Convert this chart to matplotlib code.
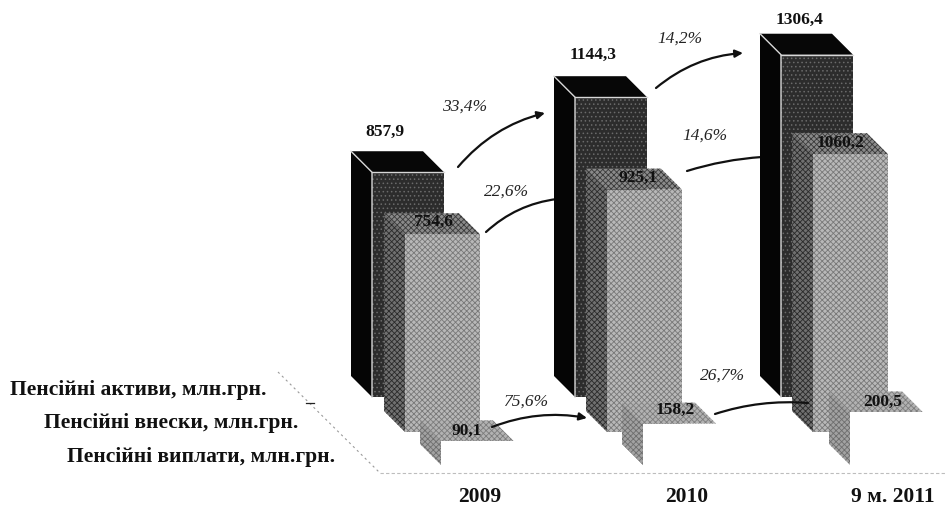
import matplotlib
matplotlib.use("Agg")
import matplotlib.pyplot as plt
from matplotlib.patches import Polygon

periods = ["2009", "2010", "9 м. 2011"]
series_names = ["Пенсійні активи, млн.грн.", "Пенсійні внески, млн.грн.", "Пенсійні виплати, млн.грн."]
assets = [857.9, 1144.3, 1306.4]
contributions = [754.6, 925.1, 1060.2]
payments = [90.1, 158.2, 200.5]
asset_growth = ["33,4%", "14,2%"]
contribution_growth = ["22,6%", "14,6%"]
payment_growth = ["75,6%", "26,7%"]

SCALE = 0.262   # pixels per unit of value
DEPTH = 21      # pixels of 3D depth
W, H = 946, 508
BASE3 = 465


def Y(px):
    return (BASE3 - px) / SCALE


fig = plt.figure(figsize=(W / 100, H / 100), dpi=100, facecolor="white")
ax = fig.add_axes([0, 0, 1, 1])
ax.set_xlim(0, W)
ax.set_ylim(Y(H), Y(0))
ax.axis("off")

SERIF = "Liberation Serif"
dz = DEPTH / SCALE


def draw_series(values, lefts, width, base_px, front, side, top, hatch_front, hatch_side, hatch_top,
                hc_front, hc_side, hc_top, z):
    base = Y(base_px)
    ax.bar(lefts, values, width=width, bottom=base, align="edge", color=front, edgecolor=hc_front,
           linewidth=0, hatch=hatch_front, zorder=z + 0.2)
    for v, l in zip(values, lefts):
        t = base + v
        ax.add_patch(Polygon([(l - DEPTH, base + dz), (l, base), (l, t), (l - DEPTH, t + dz)],
                             facecolor=side, edgecolor=hc_side, linewidth=0, hatch=hatch_side, zorder=z))
        ax.add_patch(Polygon([(l - DEPTH, t + dz), (l, t), (l + width, t), (l + width - DEPTH, t + dz)],
                             facecolor=top, edgecolor=hc_top, linewidth=0, hatch=hatch_top, zorder=z + 0.1))


plt.rcParams["hatch.linewidth"] = 0.6

# floor outline
ax.plot([278, 380], [Y(372), Y(473)], color="#9a9a9a", lw=0.8, ls=(0, (2, 3)), zorder=1)
ax.plot([380, 945], [Y(473), Y(473)], color="#bdbdbd", lw=0.8, ls=(0, (3, 2)), zorder=1)
ax.plot([306, 314], [Y(403), Y(403)], color="#222222", lw=0.9, zorder=1)


# arrows
def arrow(x0, y0, x1, y1, rad, head=True, z=2):
    ax.annotate("", xy=(x1, Y(y1)), xytext=(x0, Y(y0)), zorder=z,
                arrowprops=dict(arrowstyle="-|>,head_width=0.22,head_length=0.45" if head else "-",
                                connectionstyle=f"arc3,rad={rad}", color="#111111", lw=1.6,
                                shrinkA=0, shrinkB=0))


arrow(458, 167, 545, 113, -0.16)
arrow(656, 88, 743, 53, -0.16)
arrow(486, 232, 557, 199, -0.16, head=False)
arrow(687, 171, 762, 157, -0.06, head=False)

a_left = [372, 575, 781]
draw_series(assets, a_left, 72, 397, "#2c2c2c", "#050505", "#070707",
            "....", None, None, "#6a6a6a", "#050505", "#070707", 3)
for v, l in zip(assets, a_left):
    t = Y(397) + v
    ax.plot([l - DEPTH, l, l], [t + dz, t, Y(397)], color="#d8d8d8", lw=1.0, zorder=3.3)
    ax.plot([l, l + 72], [t, t], color="#d8d8d8", lw=1.0, zorder=3.3)

c_left = [405, 607, 813]
draw_series(contributions, c_left, 75, 432, "#b8b8b8", "#707070", "#8a8a8a",
            "xxxxxx", "xxxxxx", "xxxxxx", "#787878", "#2a2a2a", "#3a3a3a", 4)

p_left = [441, 643, 850]
draw_series(payments, p_left, 73, BASE3, "white", "#a2a2a2", "#b2b2b2",
            None, "xxxxxx", "xxxxxx", "white", "#6e6e6e", "#7d7d7d", 5)

arrow(492, 427, 587, 418, -0.14, z=7)
arrow(715, 414, 808, 403, -0.1, head=False, z=7)

# value labels
val_kw = dict(family=SERIF, weight="bold", ha="center", va="center", color="#111111", zorder=8, fontsize=12.5)
for v, x, y in zip(assets, [385, 593, 800], [132, 55, 20]):
    ax.text(x, Y(y), f"{v:.1f}".replace(".", ","), **val_kw)
for v, x, y in zip(contributions, [433, 638, 840], [222, 178, 143]):
    ax.text(x, Y(y), f"{v:.1f}".replace(".", ","), **val_kw)
for v, x, y in zip(payments, [467, 675, 883], [431, 410, 402]):
    ax.text(x, Y(y), f"{v:.1f}".replace(".", ","), **val_kw)

# growth labels
pct_kw = dict(family=SERIF, style="italic", ha="center", va="center", color="#222222", fontsize=12.5, zorder=8)
for s, x, y in zip(asset_growth, [465, 680], [107, 39]):
    ax.text(x, Y(y), s, **pct_kw)
for s, x, y in zip(contribution_growth, [507, 705], [192, 136]):
    ax.text(x, Y(y), s, **pct_kw)
for s, x, y in zip(payment_growth, [527, 723], [402, 376]):
    ax.text(x, Y(y), s, **pct_kw)

# axis labels
for s, x, y in zip(series_names, [10, 44, 67], [390, 423, 457]):
    ax.text(x, Y(y), s, family=SERIF, weight="bold", fontsize=15.5, ha="left", va="center", color="#111111")
for s, x in zip(periods, [480, 687, 893]):
    ax.text(x, Y(497), s, family=SERIF, weight="bold", fontsize=15.5, ha="center", va="center", color="#111111")

fig.savefig("out.png", dpi=100, facecolor="white")
